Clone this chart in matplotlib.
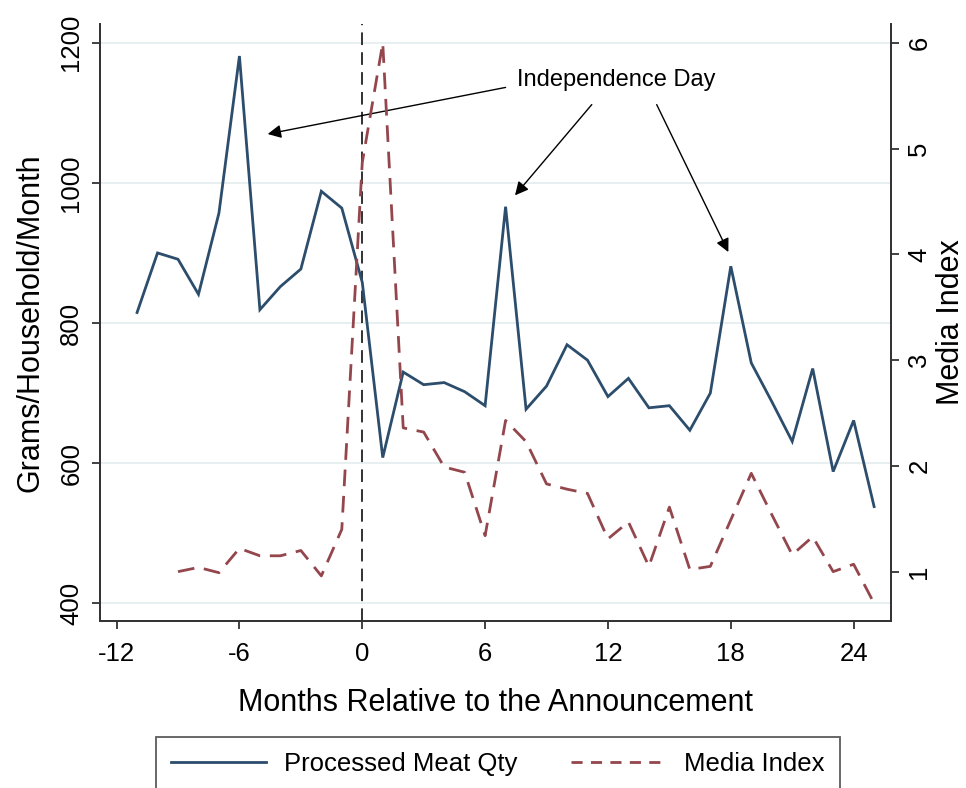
import matplotlib
matplotlib.use("Agg")
import matplotlib.pyplot as plt
from matplotlib.lines import Line2D

plt.rcParams['font.family'] = ['Liberation Sans', 'DejaVu Sans']

# Data
months_meat = list(range(-11, 26))
meat_qty = [815, 900, 891, 841, 957, 1181, 819, 852, 877, 988, 964, 858,
            608, 730, 712, 715, 702, 682, 966, 677, 710, 769, 747, 695,
            721, 679, 682, 647, 700, 881, 743, 688, 631, 735, 588, 661, 538]
months_media = list(range(-9, 26))
media_index = [1.00, 1.04, 0.99, 1.22, 1.15, 1.15, 1.20, 0.96, 1.40, 4.87,
               6.00, 2.36, 2.32, 1.99, 1.94, 1.34, 2.43, 2.23, 1.83, 1.78,
               1.74, 1.31, 1.47, 1.05, 1.61, 1.02, 1.05, 1.49, 1.93, 1.54,
               1.16, 1.33, 1.00, 1.07, 0.70]
x_ticks = [-12, -6, 0, 6, 12, 18, 24]
left_ticks = [400, 600, 800, 1000, 1200]
right_ticks = [1, 2, 3, 4, 5, 6]
annot_text = "Independence Day"
annot_targets = [(-4.62, 1069.7), (7.46, 982.2), (17.88, 901.3)]
annot_starts = [(7.0, 1136.2), (11.21, 1111.7), (14.38, 1111.7)]

blue = '#2c4d6c'
red = '#94464d'
grid_c = '#e6eef0'

W, H = 966, 788
fig = plt.figure(figsize=(W / 100, H / 100), dpi=100)
ax = fig.add_axes([100 / W, 1 - 620.7 / H, (890.7 - 100) / W, (620.7 - 24) / H])
ax2 = ax.twinx()

ax.set_xlim(-12.81, 25.81)
ax.set_ylim(375.2, 1226.7)
ax2.set_ylim(0.536, 6.18)

for v in left_ticks:
    ax.axhline(v, color=grid_c, lw=1.3, zorder=0)

ax.axvline(0, color='#222222', lw=1.3, dashes=(7, 4), zorder=1)

l1, = ax.plot(months_meat, meat_qty, color=blue, lw=2.0, zorder=3,
              solid_joinstyle='miter')
l2, = ax2.plot(months_media, media_index, color=red, lw=2.0, dashes=(6, 3.5),
               zorder=2)

ax.set_xticks(x_ticks)
ax.set_xticklabels([str(t) for t in x_ticks])
ax.set_yticks(left_ticks)
ax.set_yticklabels([str(t) for t in left_ticks], rotation=90, va='center')
ax2.set_yticks(right_ticks)
ax2.set_yticklabels([str(t) for t in right_ticks], rotation=90, va='center')

for a in (ax, ax2):
    a.spines['top'].set_visible(False)
    for s in a.spines.values():
        s.set_color('#333333')
        s.set_linewidth(1.3)
    a.tick_params(direction='out', length=6, width=1.3, color='#333333',
                  labelsize=18.5, pad=6)
ax.tick_params(axis='x', pad=9)

ax.set_xlabel('Months Relative to the Announcement', fontsize=22, labelpad=16)
ax.set_ylabel('Grams/Household/Month', fontsize=22, labelpad=10)
ax2.set_ylabel('Media Index', fontsize=22, labelpad=3, rotation=90)

ax.text(12.39, 1146.8, annot_text, fontsize=17, ha='center', va='center',
        zorder=5)
for (sx, sy), (tx, ty) in zip(annot_starts, annot_targets):
    ax.annotate('', xy=(tx, ty), xytext=(sx, sy),
                arrowprops=dict(arrowstyle='-|>', color='black', lw=1.0,
                                mutation_scale=20, shrinkA=0, shrinkB=0),
                zorder=5)

handles = [Line2D([], [], color=blue, lw=2.0),
           Line2D([], [], color=red, lw=2.0, dashes=(4, 3))]
leg = fig.legend(handles, ['Processed Meat Qty', 'Media Index'], ncol=2,
                 loc='upper left', mode='expand',
                 bbox_to_anchor=(156 / W, 1 - 737 / H, (840 - 156) / W, 0.0),
                 fontsize=18.5, frameon=True, fancybox=False,
                 edgecolor='#333333', handlelength=3.7, handletextpad=0.7,
                 borderpad=0.6, borderaxespad=0)
leg.get_frame().set_linewidth(1.3)

fig.savefig('out.png', dpi=100)
